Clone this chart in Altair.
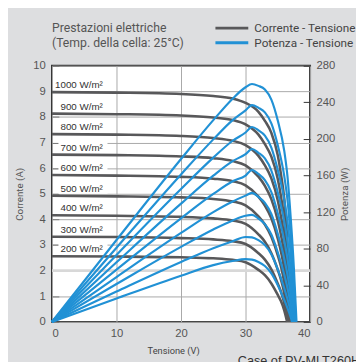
import altair as alt
import pandas as pd

# ---------------- data ----------------
IRRADIANCE = [1000, 900, 800, 700, 600, 500, 400, 300, 200]
SERIES = ["Corrente - Tensione", "Potenza - Tensione"]

# Current-voltage curves (A) at these voltages (V)
V_IV = [0, 10, 20, 25, 28, 30, 32, 33, 34, 35, 35.5, 36, 36.5]
I_1000 = [8.97, 8.95, 8.90, 8.82, 8.72, 8.55, 8.20, 7.85, 7.38, 6.50, 5.75, 4.80, 3.00]
I_900 = [8.13, 8.11, 8.06, 7.98, 7.88, 7.71, 7.31, 6.94, 6.45, 5.58, 4.88, 3.98, 2.36]
I_800 = [7.33, 7.31, 7.26, 7.18, 7.07, 6.90, 6.48, 6.11, 5.60, 4.74, 4.10, 3.26, 1.83]
I_700 = [6.53, 6.51, 6.46, 6.39, 6.28, 6.11, 5.67, 5.31, 4.79, 3.96, 3.38, 2.61, 1.18]
I_600 = [5.73, 5.71, 5.66, 5.59, 5.49, 5.33, 4.89, 4.54, 4.04, 3.25, 2.73, 2.03, 0.69]
I_500 = [4.92, 4.90, 4.86, 4.80, 4.70, 4.55, 4.12, 3.80, 3.32, 2.60, 2.15, 1.53, 0.40]
I_400 = [4.16, 4.14, 4.10, 4.04, 3.96, 3.83, 3.42, 3.13, 2.68, 2.03, 1.64, 1.11]
I_300 = [3.32, 3.31, 3.27, 3.22, 3.15, 3.04, 2.68, 2.43, 2.05, 1.49, 1.17, 0.73]
I_200 = [2.56, 2.55, 2.52, 2.48, 2.42, 2.33, 2.03, 1.82, 1.50, 1.05, 0.80, 0.45]
VOC_IV = [37.0, 36.93, 36.86, 36.8, 36.72, 36.65, 36.59, 36.52, 36.45]

# Power-voltage curves (W) at these voltages (V)
V_P = [0, 10, 20, 25, 28, 30, 31, 32, 33, 34, 35, 36, 36.5, 37, 37.5]
P_1000 = [0, 89.5, 178, 220.5, 244, 256.5, 260, 258, 254, 243, 220, 187, 159, 114, 58]
P_900 = [0, 81.1, 161.2, 199.5, 220.6, 231.3, 237, 234, 229, 217, 193, 159.5, 133.4, 93, 40]
P_800 = [0, 73.1, 145.2, 179.5, 198, 207, 213, 209.4, 203.6, 190.6, 166.1, 133.6, 109.5, 73.9, 25.6]
P_700 = [0, 65.1, 129.2, 159.8, 175.8, 183.3, 189, 184.8, 178.6, 165.4, 141.4, 109.8, 87.9, 56.9, 13]
P_600 = [0, 57.1, 113.2, 139.8, 153.7, 160, 166, 161.7, 155, 141.9, 118.7, 88.8, 69, 42.5]
P_500 = [0, 49, 97.2, 120, 131.6, 138, 141, 136.6, 130.1, 117.9, 96.2, 69, 51.7, 29.6]
P_400 = [0, 41.4, 82, 101, 110.9, 116, 117, 112.9, 106.8, 95.5, 75.9, 51.7, 37.1, 19.2]
P_300 = [0, 33.1, 65.4, 80.5, 88.2, 92.8, 92.4, 89.3, 83.9, 74, 57.4, 36.8, 24.9, 11]
P_200 = [0, 25.5, 50.4, 62, 66.5, 68.5, 68, 65.5, 61, 53, 40, 24, 15, 5]
VOC_P = [37.9, 37.8, 37.7, 37.6, 37.55, 37.45, 37.4, 37.3, 37.2]

GRID_BAND = [2]
X_TICKS = [0, 10, 20, 30, 40]
I_TICKS = [0, 1, 2, 3, 4, 5, 6, 7, 8, 9, 10]
P_TICKS = [0, 40, 80, 120, 160, 200, 240, 280]
TITLE_LINES = ["Prestazioni elettriche", "(Temp. della cella: 25°C)"]
CASE_TEXT = "Case of PV-MLT260HC"

I_CURVES = [I_1000, I_900, I_800, I_700, I_600, I_500, I_400, I_300, I_200]
P_CURVES = [P_1000, P_900, P_800, P_700, P_600, P_500, P_400, P_300, P_200]

# ---------------- tables ----------------
rows = []
for g, cur, voc in zip(IRRADIANCE, I_CURVES, VOC_IV):
    for v, i in zip(V_IV, cur):
        rows.append({"G": g, "V": v, "I": i, "serie": SERIES[0]})
    rows.append({"G": g, "V": voc, "I": 0.0, "serie": SERIES[0]})
df_iv = pd.DataFrame(rows)

rows = []
for g, pw, voc in zip(IRRADIANCE, P_CURVES, VOC_P):
    for v, p in zip(V_P, pw):
        rows.append({"G": g, "V": v, "P": p, "serie": SERIES[1]})
    rows.append({"G": g, "V": voc, "P": 0.0, "serie": SERIES[1]})
df_pv = pd.DataFrame(rows)

df_lab = pd.DataFrame({
    "G": IRRADIANCE,
    "I": [c[0] for c in I_CURVES],
    "txt": [f"{g} W/m²" for g in IRRADIANCE],
})
df_lab["lo"] = df_lab["I"] + 0.08
df_lab["hi"] = df_lab["I"] + 0.57
df_lab["x0"] = 1.0
df_lab["x1"] = 8.6

df_band = pd.DataFrame({"I": GRID_BAND})
df_case = pd.DataFrame({"t": [CASE_TEXT]})

# ---------------- styling ----------------
NARROW = "Roboto, sans-serif"
SANS = "Liberation Sans, Arial, sans-serif"
GRAY = "#58585a"
BLUE = "#2191d5"
GRID = "#a8a8a8"

x_enc = alt.X(
    "V:Q",
    scale=alt.Scale(domain=[0, 40], nice=False),
    axis=alt.Axis(
        values=X_TICKS, grid=True, gridColor=GRID, ticks=False, domain=False,
        labelFlush=True, labelPadding=6, title="Tensione  (V)",
        titleFontSize=9.5, titleX=124, titleY=24, titleColor="#444",
    ),
)

i_scale = alt.Scale(domain=[0, 10], nice=False)
i_axis = alt.Axis(
    values=I_TICKS, grid=True, gridColor=GRID, domain=False,
    tickSize=7, offset=-7, tickColor="#777", labelPadding=7,
    title="Corrente (A)", titleFontSize=10, titleX=-40, titleBaseline="middle",
)


def y_i(field):
    return alt.Y(field, scale=i_scale, axis=i_axis)


color = alt.Color(
    "serie:N",
    scale=alt.Scale(domain=SERIES, range=[GRAY, BLUE]),
    legend=alt.Legend(
        title=None, orient="none", legendX=176.5, legendY=-46,
        symbolType="M-2.8,0H2.8", symbolSize=144, symbolStrokeWidth=3,
        labelFont=NARROW, labelFontSize=12, labelColor="#444",
        labelOffset=15.5, rowPadding=1,
    ),
)

band = alt.Chart(df_band).mark_rule(color="#d8d8d8", strokeWidth=3).encode(
    y=y_i("I:Q")
)

boxes = alt.Chart(df_lab).mark_rect(color="white").encode(
    x="x0:Q", x2="x1:Q", y=y_i("lo:Q"), y2="hi:Q"
)

iv = alt.Chart(df_iv).mark_line(interpolate="monotone", strokeWidth=2.6).encode(
    x=x_enc, y=y_i("I:Q"), color=color, detail="G:N"
)

labels = alt.Chart(df_lab).mark_text(
    align="right", baseline="alphabetic", dy=-4, font=SANS, fontSize=10,
    color="#333",
).encode(x=alt.value(52), y=y_i("I:Q"), text="txt:N")

iv_layer = alt.layer(band, boxes, iv, labels)

pv = alt.Chart(df_pv).mark_line(interpolate="monotone", strokeWidth=2.2).encode(
    x=x_enc,
    y=alt.Y(
        "P:Q",
        scale=alt.Scale(domain=[0, 280], nice=False),
        axis=alt.Axis(
            orient="right", values=P_TICKS, grid=False, domain=False,
            tickSize=7, offset=-7, tickColor="#333", labelPadding=6,
            title="Potenza (W)", titleFontSize=10, titleAngle=270,
            titleX=42, titleBaseline="middle",
        ),
    ),
    color=color,
    detail="G:N",
)

case = alt.Chart(df_case).mark_text(
    align="left", baseline="alphabetic", font=SANS, fontSize=13, color="#333"
).encode(x=alt.value(190), y=alt.value(306), text="t:N")

chart = (
    alt.layer(iv_layer, pv, case)
    .resolve_scale(y="independent")
    .properties(
        width=264,
        height=262,
        background="#dddee0",
        padding={"left": 45, "top": 55, "right": 47, "bottom": 37},
        autosize=alt.AutoSizeParams(type="none"),
        title=alt.TitleParams(
            TITLE_LINES, anchor="start", frame="group", font=NARROW,
            fontSize=12.5, fontWeight="normal", color="#555", lineHeight=15,
            offset=14, dy=43,
        ),
    )
    .configure_view(fill="white", stroke="#333", strokeWidth=2)
    .configure_axis(
        labelFont=SANS, labelFontSize=11.5, labelColor="#555",
        titleFont=NARROW, titleColor="#555", titleFontWeight="normal",
    )
)

chart.save("out.html", embed_options={"renderer": "svg", "actions": False})
